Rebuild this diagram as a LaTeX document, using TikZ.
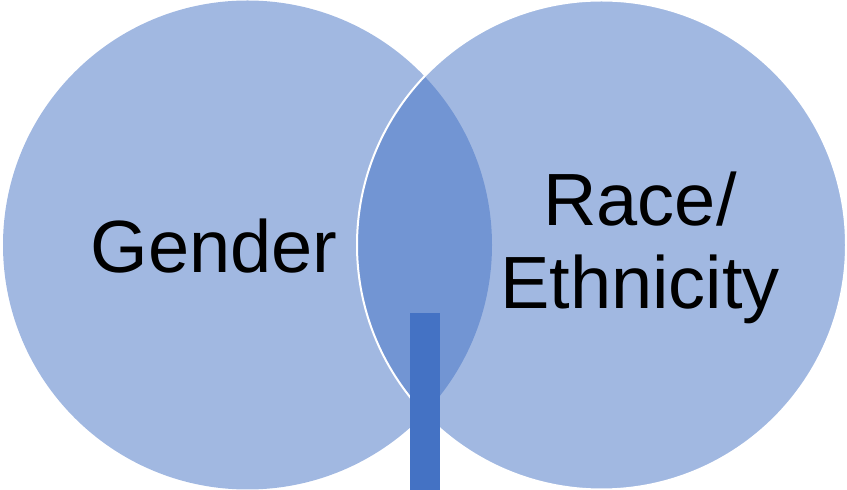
\documentclass[tikz,border=0pt]{standalone}
\usepackage{fontspec}
\newfontfamily\vennfont{Liberation Sans}
\definecolor{vennblue}{HTML}{4472C4}
\tikzset{
	venn/.style={circle, inner sep=0pt, minimum size=489pt, fill=vennblue, fill opacity=.5, draw=white, line width=2pt},
	vennlabel/.style={font=\vennfont\fontsize{74}{83}\selectfont, align=center, text=black}
}

\begin{document}
\begin{tikzpicture}[x=1pt, y=1pt]
				\useasboundingbox (0,0) rectangle (847,490);
				\node[venn, draw=none] (gender) at (247.5,245) {};
				\node[venn] (race) at (601.5,245) {};
				\node[vennlabel] (genderlabel) at (214,244) {Gender};
				\node[vennlabel] (racelabel) at (640,242) {Race/\\Ethnicity};
				\node[fill=vennblue, inner sep=0pt, minimum width=30pt, minimum height=177pt, anchor=south] (bar) at (425,0) {};
			\end{tikzpicture}
\end{document}
